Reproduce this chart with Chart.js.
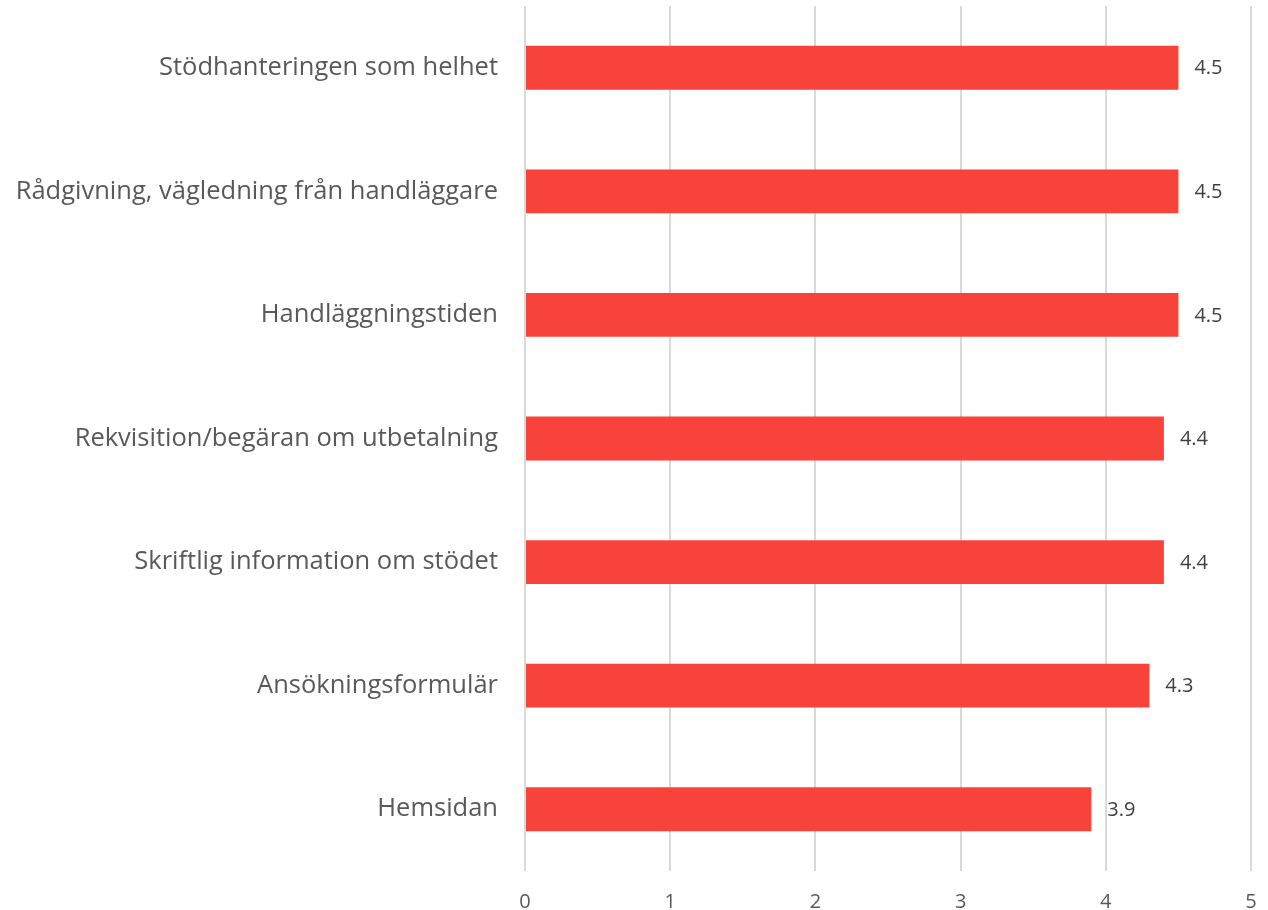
<!DOCTYPE html>
<html>
<head>
<meta charset="utf-8">
<script src="https://cdn.jsdelivr.net/npm/chart.js@4"></script>
<style>
  html, body { margin: 0; padding: 0; background: #fff; }
  #wrap { width: 1268px; height: 910px; }
</style>
</head>
<body>
<div id="wrap"><canvas id="chart" width="1268" height="910"></canvas></div>
<script>
const categories = [
    'Stödhanteringen som helhet',
    'Rådgivning, vägledning från handläggare',
    'Handläggningstiden',
    'Rekvisition/begäran om utbetalning',
    'Skriftlig information om stödet',
    'Ansökningsformulär',
    'Hemsidan'
];
const values = [4.5, 4.5, 4.5, 4.4, 4.4, 4.3, 3.9];
const xTicks = [0, 1, 2, 3, 4, 5];

const FONT = "'Open Sans', 'Noto Sans', sans-serif";
const GREY = '#595959';

// draws the value next to each bar
const valueLabels = {
    id: 'valueLabels',
    afterDatasetsDraw(chart) {
        const ctx = chart.ctx;
        const meta = chart.getDatasetMeta(0);
        ctx.save();
        ctx.font = '20px ' + FONT;
        ctx.fillStyle = '#404040';
        ctx.textAlign = 'left';
        ctx.textBaseline = 'middle';
        meta.data.forEach((bar, i) => {
            ctx.fillText(values[i].toFixed(1), bar.x + 16, bar.y + 1);
        });
        ctx.restore();
    }
};

new Chart(document.getElementById('chart').getContext('2d'), {
    type: 'bar',
    data: {
        labels: categories,
        datasets: [{
            data: values,
            backgroundColor: 'rgb(248, 67, 59)',
            borderWidth: 0,
            categoryPercentage: 1,
            barPercentage: 0.355
        }]
    },
    options: {
        indexAxis: 'y',
        responsive: false,
        animation: false,
        layout: { padding: { top: 6, right: 17, left: 0, bottom: 0 } },
        plugins: {
            legend: { display: false },
            tooltip: { enabled: false }
        },
        scales: {
            x: {
                min: 0,
                max: 5,
                afterBuildTicks: axis => { axis.ticks = xTicks.map(v => ({ value: v })); },
                afterFit: axis => {
                    axis.height = 39;
                    axis.paddingLeft = 0;
                    axis.paddingRight = 0;
                },
                border: { display: false },
                grid: { color: '#d9d9d9', lineWidth: 2, drawTicks: false },
                ticks: {
                    padding: 19,
                    color: GREY,
                    font: { size: 20, family: FONT }
                }
            },
            y: {
                afterFit: axis => {
                    axis.width = 525;
                    axis.paddingTop = 0;
                    axis.paddingBottom = 0;
                },
                border: { display: false },
                grid: { display: false, drawTicks: false },
                ticks: {
                    padding: 27,
                    color: GREY,
                    font: { size: 25.5, family: FONT }
                }
            }
        }
    },
    plugins: [valueLabels]
});
</script>
</body>
</html>
